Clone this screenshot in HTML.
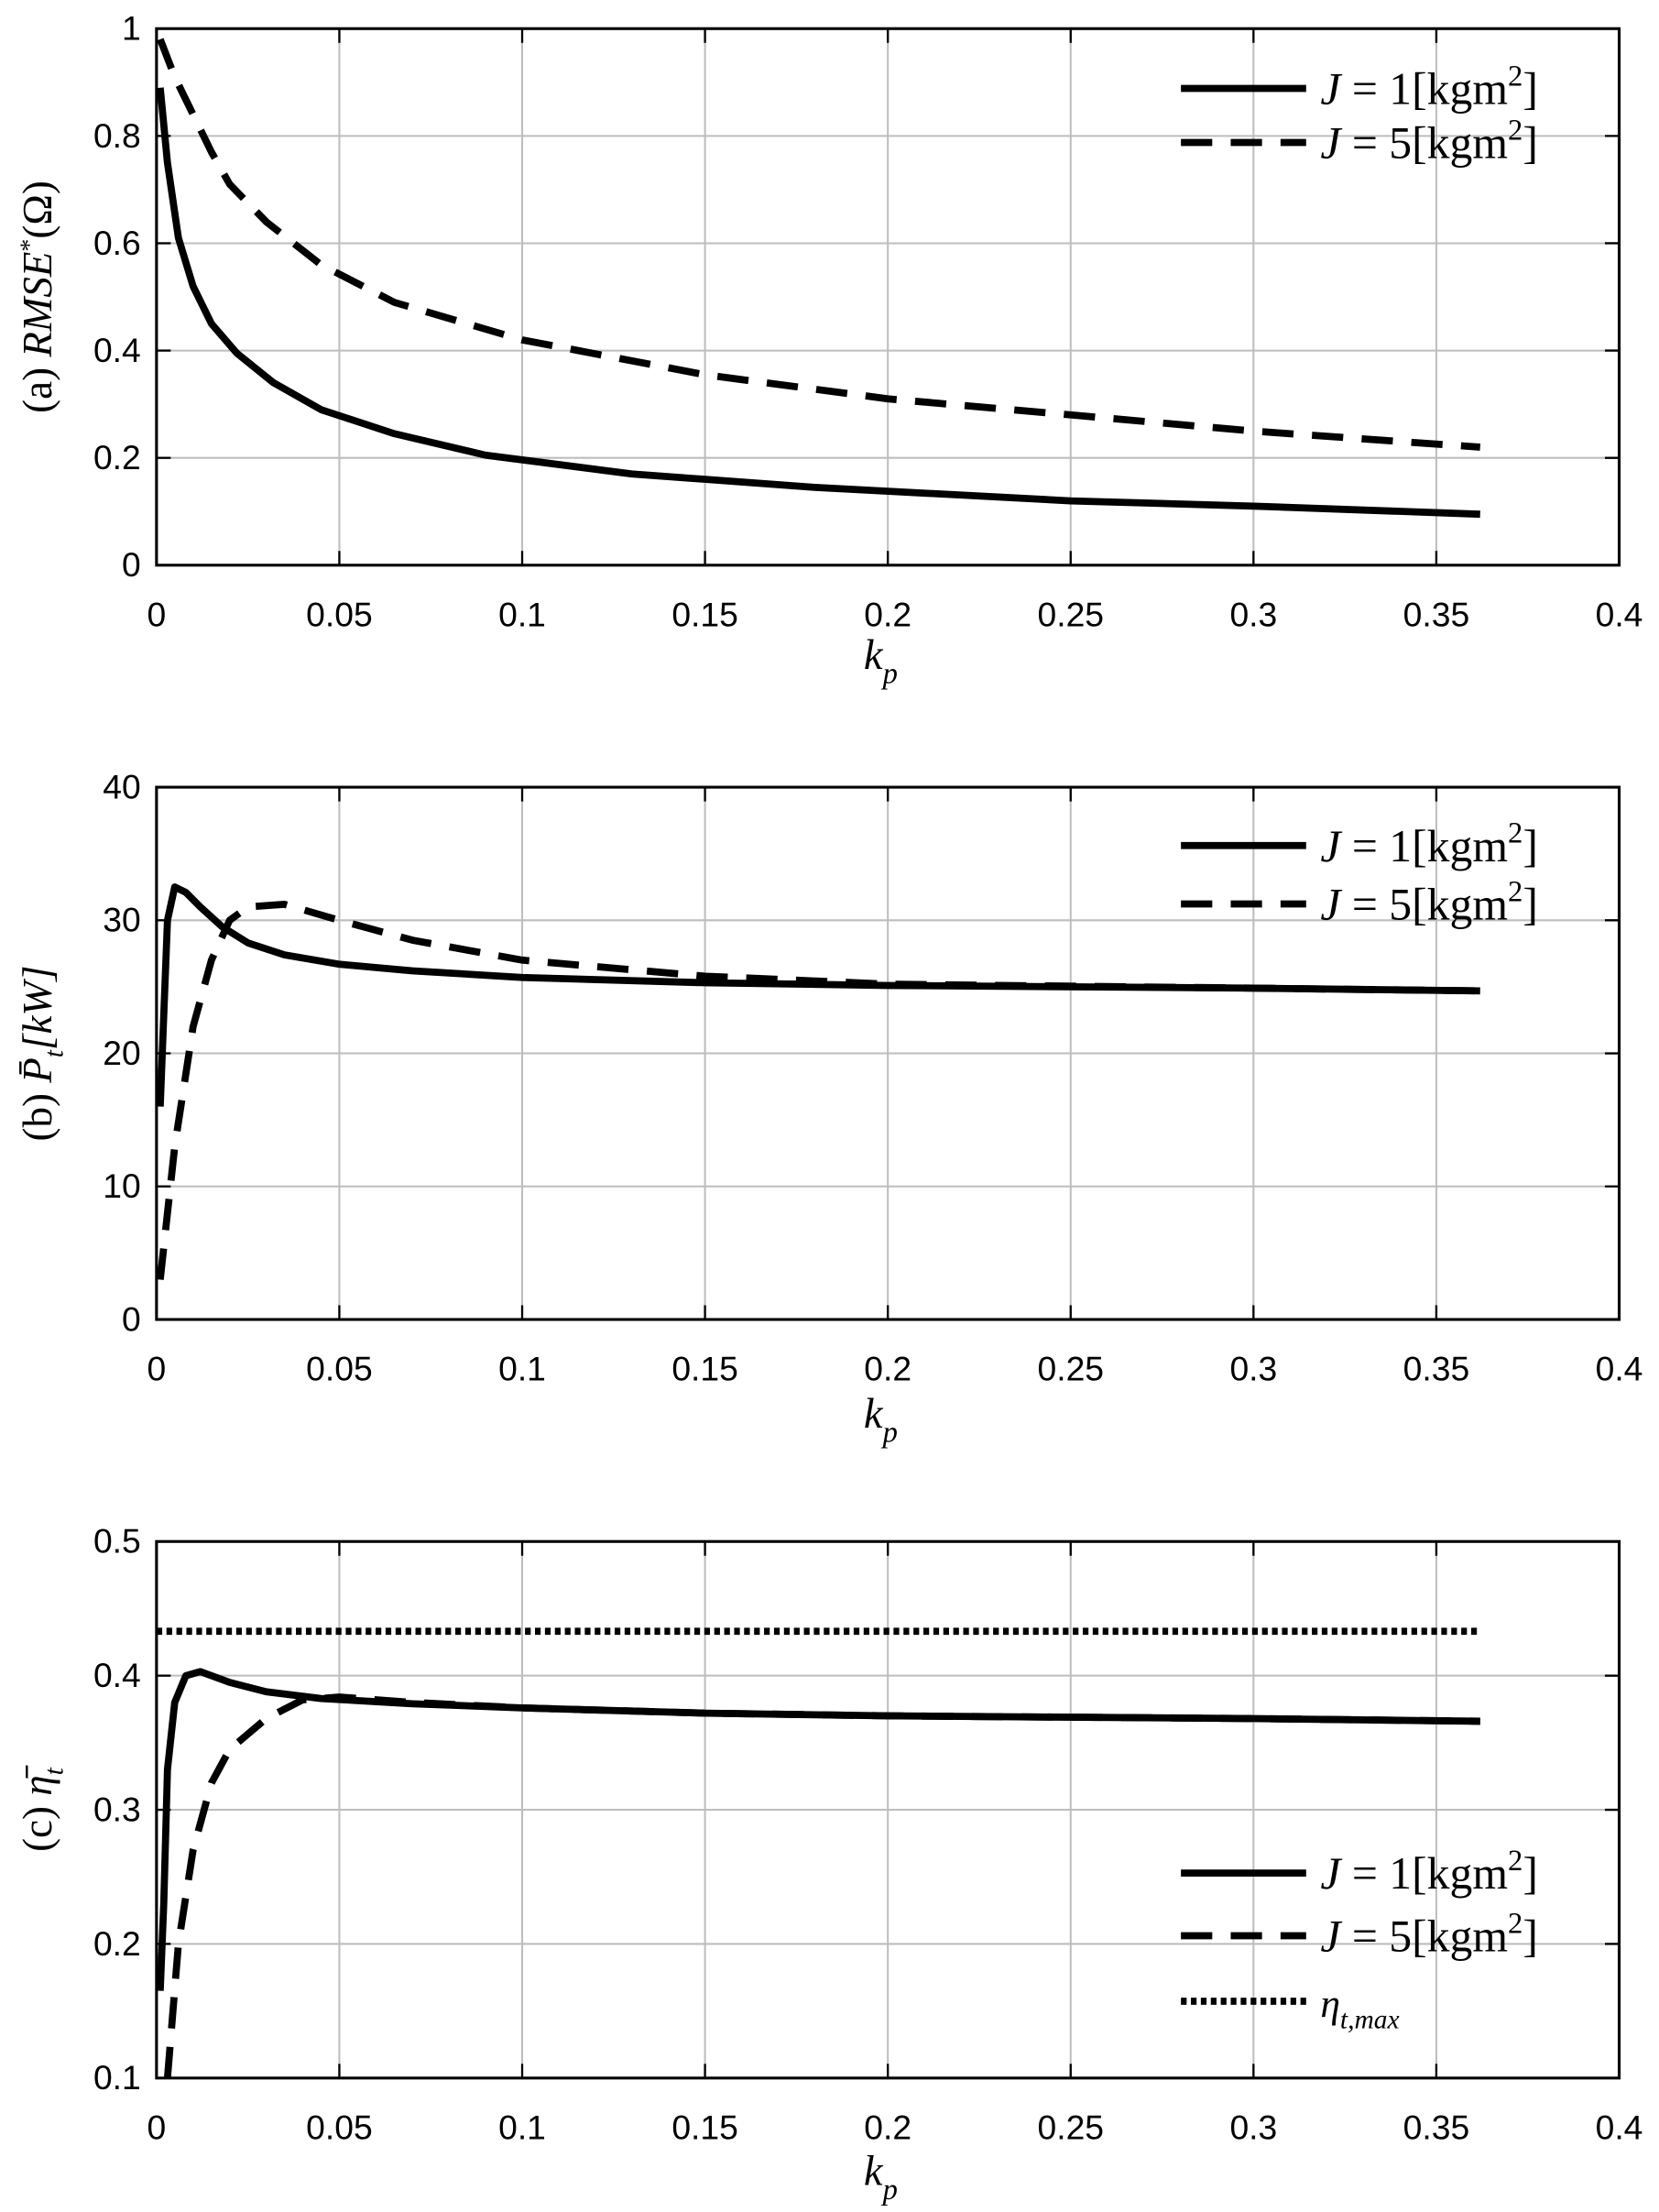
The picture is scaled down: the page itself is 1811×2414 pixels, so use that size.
<!DOCTYPE html>
<html><head><style>
html,body{margin:0;padding:0;background:#fff;}
svg{display:block;}
text{font-family:"Liberation Sans",sans-serif;}
.s{font-family:"Liberation Serif",serif;}
</style></head><body>
<svg id="c" width="1811" height="2414" viewBox="0 0 1166 1554" xmlns="http://www.w3.org/2000/svg"></svg>
<script>
const svg=document.getElementById('c');
let h='';
const X0=110,X1=1138;
function px(x){return X0+(X1-X0)*x/0.4;}
function panel(top,bot,ymin,ymax,yticks,ylab,series,legend,legY,xlabY){
  const py=y=>bot-(bot-top)*(y-ymin)/(ymax-ymin);
  for(let i=1;i<8;i++){const x=px(i*0.05);h+=`<line x1="${x}" y1="${top}" x2="${x}" y2="${bot}" stroke="#bdbdbd" stroke-width="1.3"/>`;}
  yticks.forEach(t=>{const y=py(t);if(t!=ymin&&t!=ymax)h+=`<line x1="${X0}" y1="${y}" x2="${X1}" y2="${y}" stroke="#bdbdbd" stroke-width="1.3"/>`;});
  for(let i=0;i<=8;i++){const x=px(i*0.05);h+=`<line x1="${x}" y1="${bot}" x2="${x}" y2="${bot-10}" stroke="#000" stroke-width="1.5"/><line x1="${x}" y1="${top}" x2="${x}" y2="${top+10}" stroke="#000" stroke-width="1.5"/>`;
    const lab=i==0?'0':(i*0.05).toFixed(2).replace(/0$/,'');h+=`<text x="${x}" y="${bot+43}" font-size="24" text-anchor="middle">${lab}</text>`;}
  yticks.forEach(t=>{const y=py(t);h+=`<line x1="${X0}" y1="${y}" x2="${X0+10}" y2="${y}" stroke="#000" stroke-width="1.5"/><line x1="${X1}" y1="${y}" x2="${X1-10}" y2="${y}" stroke="#000" stroke-width="1.5"/>`;
    h+=`<text x="${X0-11}" y="${y+8}" font-size="24" text-anchor="end">${String(+t.toFixed(2))}</text>`;});
  series.forEach(s=>{const pts=s.d.map(p=>px(p[0]).toFixed(1)+','+py(p[1]).toFixed(1)).join(' ');
    h+=`<polyline points="${pts}" fill="none" stroke="#000" stroke-width="5" stroke-linejoin="round" ${s.dash?`stroke-dasharray="${s.dash}"`:''}/>`;});
  h+=`<rect x="${X0}" y="${top}" width="${X1-X0}" height="${bot-top}" fill="none" stroke="#000" stroke-width="2"/>`;
  legend.forEach((l,i)=>{const y=legY[i];h+=`<line x1="830" y1="${y}" x2="918" y2="${y}" stroke="#000" stroke-width="5" ${l.dash?`stroke-dasharray="${l.dash}"`:''}/>`;
    h+=`<text class="s" x="928" y="${y+11}" font-size="32">${l.t}</text>`;});
  h+=`<text class="s" transform="translate(36,${(top+bot)/2}) rotate(-90)" font-size="29" text-anchor="middle">${ylab}</text>`;
  h+=`<text class="s" x="${(X0+X1)/2-5}" y="${xlabY}" font-size="30" font-style="italic" text-anchor="middle">k<tspan font-size="21" dy="10">p</tspan></text>`;
}
const LJ1='<tspan font-style="italic">J</tspan><tspan dx="8">=</tspan><tspan dx="8">1[kgm</tspan><tspan font-size="21" dy="-13">2</tspan><tspan dy="13">]</tspan>';
const LJ5='<tspan font-style="italic">J</tspan><tspan dx="8">=</tspan><tspan dx="8">5[kgm</tspan><tspan font-size="21" dy="-13">2</tspan><tspan dy="13">]</tspan>';
const D='22,13';
panel(20,397,0,1,[0,0.2,0.4,0.6,0.8,1],'(a) <tspan font-style="italic">RMSE</tspan><tspan font-size="18" dy="-10">*</tspan><tspan dy="10">(Ω)</tspan>',
 [{d:[[0.001,0.89],[0.003,0.75],[0.006,0.61],[0.01,0.52],[0.015,0.45],[0.022,0.395],[0.032,0.34],[0.045,0.29],[0.065,0.245],[0.09,0.205],[0.13,0.17],[0.18,0.145],[0.25,0.12],[0.3,0.11],[0.362,0.095]]},
  {d:[[0.001,0.98],[0.005,0.91],[0.01,0.84],[0.015,0.77],[0.02,0.71],[0.03,0.64],[0.045,0.56],[0.065,0.49],[0.1,0.42],[0.15,0.355],[0.2,0.31],[0.25,0.28],[0.3,0.25],[0.362,0.22]],dash:D}],
 [{t:LJ1},{t:LJ5,dash:D}],[62,100],470);
panel(553,927,0,40,[0,10,20,30,40],'(b) <tspan font-style="italic">P̄<tspan font-size="19" dy="8">t</tspan><tspan dy="-8">[kW]</tspan></tspan>',
 [{d:[[0.001,16],[0.003,30],[0.005,32.5],[0.008,32.1],[0.012,31],[0.018,29.5],[0.025,28.3],[0.035,27.4],[0.05,26.7],[0.07,26.2],[0.1,25.7],[0.15,25.3],[0.2,25.1],[0.3,24.9],[0.362,24.7]]},
  {d:[[0.001,3],[0.005,13],[0.01,22],[0.015,27],[0.02,30],[0.025,31],[0.035,31.2],[0.05,30],[0.07,28.5],[0.1,27],[0.15,25.8],[0.2,25.2],[0.3,24.9],[0.362,24.7]],dash:D}],
 [{t:LJ1},{t:LJ5,dash:D}],[594,635],1003);
panel(1083,1460,0.1,0.5,[0.1,0.2,0.3,0.4,0.5],'(c) <tspan font-style="italic">η̄<tspan font-size="19" dy="8">t</tspan></tspan>',
 [{d:[[0.001,0.165],[0.002,0.23],[0.003,0.33],[0.005,0.38],[0.008,0.4],[0.012,0.403],[0.02,0.395],[0.03,0.388],[0.045,0.383],[0.07,0.379],[0.1,0.376],[0.15,0.372],[0.2,0.37],[0.3,0.368],[0.362,0.366]]},
  {d:[[0.003,0.1],[0.006,0.2],[0.01,0.27],[0.015,0.32],[0.02,0.345],[0.03,0.368],[0.04,0.382],[0.05,0.384],[0.07,0.38],[0.1,0.376],[0.15,0.372],[0.2,0.37],[0.3,0.368],[0.362,0.366]],dash:D},
  {d:[[0,0.433],[0.362,0.433]],dash:'4,3'}],
 [{t:LJ1},{t:LJ5,dash:D},{t:'<tspan font-style="italic" font-size="28">η<tspan font-size="19" dy="8">t,max</tspan></tspan>',dash:'4,3'}],[1316,1360,1406],1535);
svg.innerHTML=h;
</script>
</body></html>
